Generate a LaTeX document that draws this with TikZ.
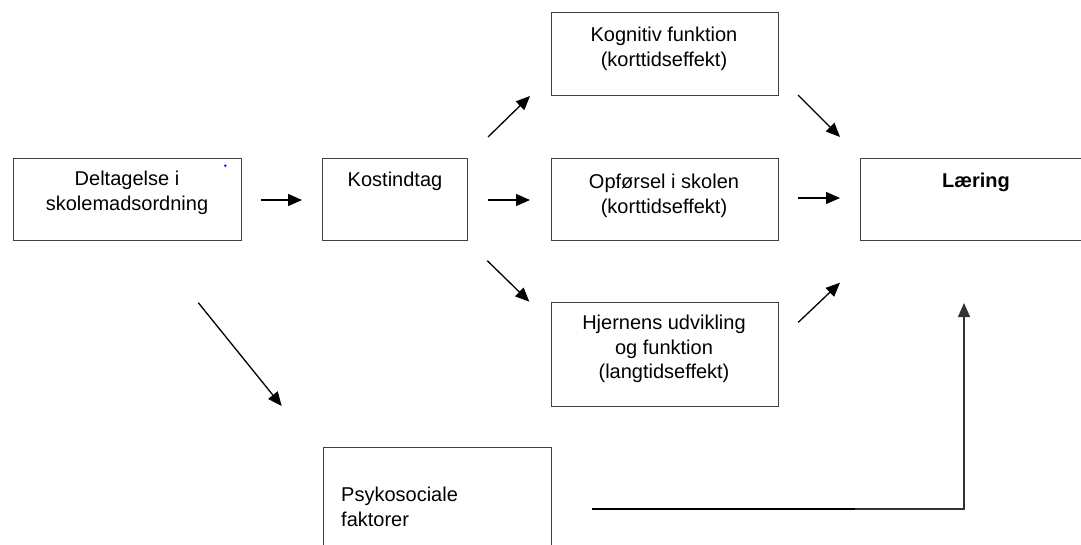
\documentclass[tikz,border=0pt]{standalone}
\usepackage{fontspec}
\setmainfont{Liberation Sans}
\usetikzlibrary{arrows.meta}
\tikzset{
  box/.style={draw=black!75, line width=0.9pt, minimum width=227pt, minimum height=82pt, inner sep=0pt},
  txt/.style={align=center, inner sep=0pt, font=\fontsize{20}{24.5}\selectfont},
  arr/.style={-{Triangle[length=14pt,width=12pt]}, line width=1.3pt},
}

\begin{document}
\begin{tikzpicture}[x=1pt,y=-1pt]
  \useasboundingbox (0,0) rectangle (1081,544);
  \node[box, minimum width=228pt] (delt) at (127,199) {};
  \node[box, minimum width=145pt] (kost) at (395,199) {};
  \node[box, minimum height=83pt] (kogn) at (664.5,54.3) {};
  \node[box] (opf) at (664.5,199) {};
  \node[box, minimum height=104pt] (hjern) at (664.5,354) {};
  \node[box] (laer) at (973.5,199) {};
  \node[box, minimum width=228pt, minimum height=110pt] (psyk) at (437,502) {};
  \node[txt] (deltt) at (127,193) {Deltagelse i\\skolemadsordning};
  \node[txt] (kostt) at (395,181) {Kostindtag};
  \node[txt] (kognt) at (664,49) {Kognitiv funktion\\(korttidseffekt)};
  \node[txt] (opft) at (664,196) {Opførsel i skolen\\(korttidseffekt)};
  \node[txt] (hjernt) at (664,349) {Hjernens udvikling\\og funktion\\(langtidseffekt)};
  \node[txt, font=\fontsize{20}{24.5}\selectfont\bfseries] (laert) at (976,182) {Læring};
  \node[txt, align=left, anchor=west] (psykt) at (341,507) {Psykosociale\\faktorer};
  \fill[blue] (225.3,165.7) circle (1.3pt);
  \foreach \n/\a/\b in {a/{261,200}/{302,200}, b/{488,200}/{530,200}, c/{488,137}/{530,96},
      d/{487.3,260.7}/{529.3,301.7}, e/{798,95}/{840,137}, f/{798,198}/{840,198},
      g/{798.3,322.3}/{840,282.7}, h/{198.3,302.7}/{281.7,406}}
    {\coordinate (\n1) at (\a); \coordinate (\n2) at (\b);
     \draw[arr] (\n1) -- (\n2);}
  \coordinate (i1) at (592,509);
  \coordinate (i2) at (855,509);
  \coordinate (i3) at (964,509);
  \coordinate (i4) at (964,303);
  \draw[line width=2pt] (i1) -- (i2);
  \draw[arr, black!80] (i2) -- (i3) -- (i4);
\end{tikzpicture}
\end{document}
